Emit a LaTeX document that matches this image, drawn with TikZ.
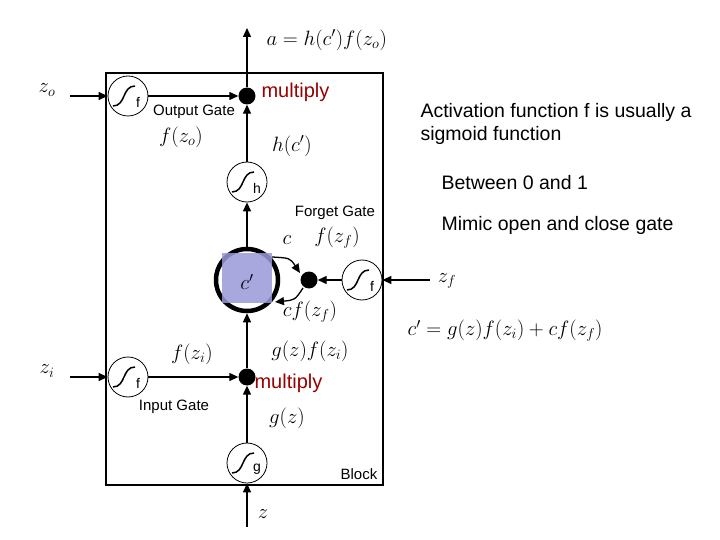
\documentclass[tikz,border=0pt]{standalone}
\usepackage{fontspec}
\newfontfamily\sans{Liberation Sans}
\usetikzlibrary{arrows.meta}
\begin{document}
\begin{tikzpicture}[x=1pt,y=-1pt,
  gate/.style={circle,draw,thick,minimum size=40pt,inner sep=0pt},
  dot/.style={circle,fill,minimum size=17pt,inner sep=0pt},
  arr/.style={-{Triangle[length=9pt,width=8pt]},line width=1.3pt},
  lbl/.style={font=\fontsize{21}{24}\selectfont},
  small/.style={font=\sans\fontsize{15}{18}\selectfont},
  note/.style={font=\sans\fontsize{19.5}{23}\selectfont,anchor=west,align=left},
  red/.style={font=\sans\fontsize{20}{24}\selectfont,text=red!60!black,anchor=west}]
\useasboundingbox (0,0) rectangle (720,540);
\newcommand{\sig}[3]{%
  \draw[line width=1.5pt] (#1-11,#2+10) .. controls (#1+2,#2+10) and (#1-2,#2-10) .. (#1+11,#2-10);
  \node[font=\sans\fontsize{14}{16}\selectfont] at (#1+14,#2+6) {#3};}
\draw[line width=1.8pt] (106,73) rectangle (383,485);
% nodes
\node[gate] (og) at (128,96) {}; \sig{124}{96}{f}
\node[gate] (hg) at (247,182) {}; \sig{243}{182}{h}
\node[gate] (ig) at (128,377) {}; \sig{124}{377}{f}
\node[gate] (gg) at (247,463) {}; \sig{243}{463}{g}
\node[gate] (fg) at (362,280) {}; \sig{358}{280}{f}
\node[dot] (m1) at (247,96) {};
\node[dot] (m2) at (247,377) {};
\node[dot] (m3) at (309,280) {};
\node[circle,draw,line width=4.5pt,minimum size=62pt,inner sep=0pt] (cell) at (247,280) {};
\fill[blue!45!gray!55,opacity=0.85] (222,253) rectangle (272,303);
\node[lbl] at (247,282) {$c'$};
\coordinate (top) at (247,28);
\coordinate (bot) at (247,527);
\coordinate (zo) at (70,96);
\coordinate (zi) at (70,377);
\coordinate (zf) at (430,280);
% connectors
\draw[arr] (m1) -- (top);
\draw[arr] (zo) -- (og);
\draw[arr] (og) -- (m1);
\draw[arr] (hg) -- (m1);
\draw[arr] (cell) -- (hg);
\draw[arr] (zi) -- (ig);
\draw[arr] (ig) -- (m2);
\draw[arr] (m2) -- (cell);
\draw[arr] (gg) -- (m2);
\draw[arr] (bot) -- (gg);
\draw[arr] (zf) -- (fg);
\draw[arr] (fg) -- (m3);
\draw[arr] (272,257) .. controls (290,258) .. (300,273);
\draw[arr] (303,288) .. controls (295,300) .. (275,302);
% labels
\node[lbl,anchor=west] at (263,40) {$a=h(c')f(z_o)$};
\node[lbl] at (47,90) {$z_o$};
\node[lbl] at (47,371) {$z_i$};
\node[lbl] at (447,281) {$z_f$};
\node[small] at (194,112) {Output Gate};
\node[lbl] at (181,137) {$f(z_o)$};
\node[lbl] at (292,146) {$h(c')$};
\node[small] at (335,213) {Forget Gate};
\node[lbl] at (287,240) {$c$};
\node[lbl] at (337,238) {$f(z_f)$};
\node[lbl] at (310,312) {$cf(z_f)$};
\node[lbl] at (192,354) {$f(z_i)$};
\node[lbl] at (310,351) {$g(z)f(z_i)$};
\node[small] at (174,407) {Input Gate};
\node[lbl] at (287,418) {$g(z)$};
\node[small] at (359,474) {Block};
\node[lbl] at (263,514) {$z$};
\node[lbl,anchor=west] at (404,331) {$c'=g(z)f(z_i)+cf(z_f)$};
\node[red] at (258,92) {multiply};
\node[red] at (251,383) {multiply};
\node[note] at (417,124) {Activation function f is usually a\\sigmoid function};
\node[note] at (438,183) {Between 0 and 1};
\node[note] at (438,225) {Mimic open and close gate};
\end{tikzpicture}
\end{document}
